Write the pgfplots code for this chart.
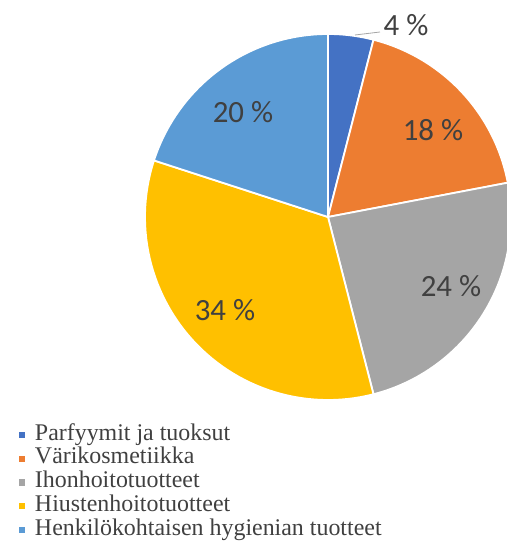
\documentclass[border=0pt]{standalone}
\usepackage{pgfplots}
\pgfplotsset{compat=1.18}
\usepackage{fontspec}
\setmainfont{Liberation Serif}
\newfontfamily\calib{Carlito}
\definecolor{c1}{HTML}{4472C4}
\definecolor{c2}{HTML}{ED7D31}
\definecolor{c3}{HTML}{A5A5A5}
\definecolor{c4}{HTML}{FFC000}
\definecolor{c5}{HTML}{5B9BD5}
\definecolor{txt}{HTML}{404040}
% shares (per cent)
\newcommand\vA{4}
\newcommand\vB{18}
\newcommand\vC{24}
\newcommand\vD{34}
\newcommand\vE{20}
\pgfmathsetmacro\aA{90}
\pgfmathsetmacro\aB{\aA-3.6*\vA}
\pgfmathsetmacro\aC{\aB-3.6*\vB}
\pgfmathsetmacro\aD{\aC-3.6*\vC}
\pgfmathsetmacro\aE{\aD-3.6*\vD}
\pgfmathsetmacro\aF{\aE-3.6*\vE}
\def\cx{328}\def\cy{331}\def\R{183}
\begin{document}
\begin{tikzpicture}
\path[use as bounding box] (0,0) rectangle (507bp,548bp);
\begin{axis}[at={(0,0)}, anchor=south west, scale only axis,
  width=507bp, height=548bp, xmin=0, xmax=507, ymin=0, ymax=548,
  hide axis, clip=true,
  legend image code/.code={\fill[#1] (0bp,-4bp) rectangle (8bp,4bp);},
  legend cell align=left,
  legend style={at={(17/507,125/548)}, anchor=north west, draw=none, fill=none,
    font=\fontsize{24}{24}\selectfont\color{txt}, inner sep=0pt, row sep=0pt,
    column sep=8bp,
    nodes={inner sep=0pt, text height=17bp, text depth=6.7bp}},
  every axis plot/.append style={draw=white, line width=1.8bp, samples=60}]
\addplot[fill=c1, domain=\aB:\aA] ({\cx+\R*cos(x)},{\cy+\R*sin(x)}) -- (axis cs:\cx,\cy) -- cycle;
\addlegendentry{Parfyymit ja tuoksut}
\addplot[fill=c2, domain=\aC:\aB] ({\cx+\R*cos(x)},{\cy+\R*sin(x)}) -- (axis cs:\cx,\cy) -- cycle;
\addlegendentry{Värikosmetiikka}
\addplot[fill=c3, domain=\aD:\aC] ({\cx+\R*cos(x)},{\cy+\R*sin(x)}) -- (axis cs:\cx,\cy) -- cycle;
\addlegendentry{Ihonhoitotuotteet}
\addplot[fill=c4, domain=\aE:\aD] ({\cx+\R*cos(x)},{\cy+\R*sin(x)}) -- (axis cs:\cx,\cy) -- cycle;
\addlegendentry{Hiustenhoitotuotteet}
\addplot[fill=c5, domain=\aF:\aE] ({\cx+\R*cos(x)},{\cy+\R*sin(x)}) -- (axis cs:\cx,\cy) -- cycle;
\addlegendentry{Henkilökohtaisen hygienian tuotteet}
\draw[gray!70, line width=0.8bp] (axis cs:355,513) -- (axis cs:380,516);
\begin{scope}[every node/.style={font=\calib\fontsize{31}{31}\selectfont, text=txt}]
\node at (axis cs:406,523) {4 \%};
\node at (axis cs:433,418) {18 \%};
\node at (axis cs:451,262) {24 \%};
\node at (axis cs:225,238) {34 \%};
\node at (axis cs:243,436) {20 \%};
\end{scope}
\end{axis}
\end{tikzpicture}
\end{document}
